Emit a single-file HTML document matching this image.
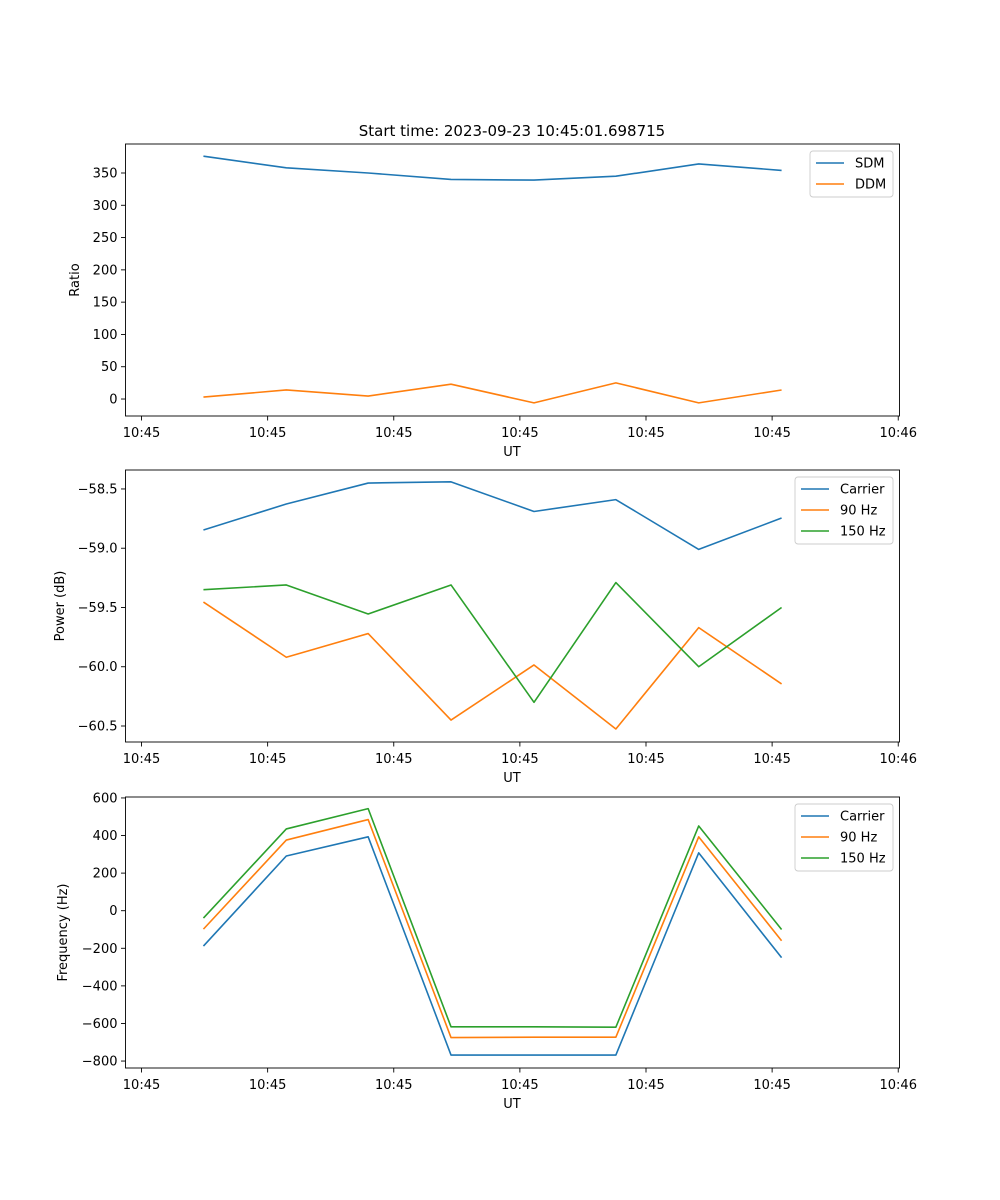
<!DOCTYPE html>
<html><head><meta charset="utf-8"><style>
body{margin:0;background:#fff}
svg{display:block;font-family:"DejaVu Sans","Liberation Sans",sans-serif}
</style></head><body>
<svg id="fig" width="1000" height="1200" viewBox="0 0 1000 1200">
<rect width="1000" height="1200" fill="#fff"/>
<text x="512" y="136" font-size="15" text-anchor="middle">Start time: 2023-09-23 10:45:01.698715</text>
</svg>
<script>
// time in seconds after 10:45:00
const times = [4.91, 11.48, 17.97, 24.54, 31.12, 37.61, 44.18, 50.75];
const xTickVals = [0, 10, 20, 30, 40, 50, 60];
const xTickLabels = ["10:45","10:45","10:45","10:45","10:45","10:45","10:46"];

const sdm = [376, 358, 350, 340, 339, 345, 364, 354];
const ddm = [3, 14, 4.6, 23, -6, 25, -6, 14];
const ratioTicks = [0, 50, 100, 150, 200, 250, 300, 350];

const powCarrier = [-58.846, -58.627, -58.45, -58.44, -58.69, -58.59, -59.01, -58.745];
const pow90 = [-59.454, -59.92, -59.72, -60.45, -59.985, -60.525, -59.67, -60.145];
const pow150 = [-59.35, -59.31, -59.555, -59.31, -60.3, -59.29, -60.0, -59.5];
const powTicks = [-58.5, -59.0, -59.5, -60.0, -60.5];

const frqCarrier = [-188, 291, 393, -768, -768, -768, 308, -250];
const frq90 = [-98, 376, 485, -675, -673, -673, 393, -160];
const frq150 = [-39, 435, 543, -618, -618, -620, 451, -100];
const frqTicks = [600, 400, 200, 0, -200, -400, -600, -800];

const NS = "http://www.w3.org/2000/svg";
const svg = document.getElementById("fig");
function mk(tag, attrs, parent){const e=document.createElementNS(NS,tag);for(const k in attrs)e.setAttribute(k,attrs[k]);(parent||svg).appendChild(e);return e;}
const L=125.5,R=899.5;
const xMin=-1.27,xMax=60.1;
const xs=v=>L+(v-xMin)/(xMax-xMin)*(R-L);
const COLORS={blue:"#1f77b4",orange:"#ff7f0e",green:"#2ca02c"};

function panel(cfg){
  const g=mk("g",{});
  
  
  const ys=v=>cfg.bot-(v-cfg.yMin)/(cfg.yMax-cfg.yMin)*(cfg.bot-cfg.top);
  cfg.series.forEach(s=>{
    const p=mk("polyline",{points:times.map((t,i)=>xs(t).toFixed(2)+","+ys(s.vals[i]).toFixed(2)).join(" "),fill:"none",stroke:s.color,"stroke-width":1.6,"stroke-linejoin":"round"},g);
    
    
  });
  const fr=mk("rect",{x:L,y:cfg.top,width:R-L,height:cfg.bot-cfg.top,fill:"none",stroke:"#000","stroke-width":0.9},g);
  
  
  xTickVals.forEach((v,i)=>{
    const x=xs(v);
    mk("line",{x1:x,x2:x,y1:cfg.bot,y2:cfg.bot+4.5,stroke:"#000","stroke-width":0.9},g);
    const t=mk("text",{x:x,y:cfg.bot+21,"font-size":13,"text-anchor":"middle"},g);
    t.textContent=xTickLabels[i];
    
    
  });
  cfg.ticks.forEach(v=>{
    const y=ys(v);
    mk("line",{x1:L-4.5,x2:L,y1:y,y2:y,stroke:"#000","stroke-width":0.9},g);
    const t=mk("text",{x:L-8,y:y+4.5,"font-size":13,"text-anchor":"end"},g);
    t.textContent=cfg.fmt(v).replace("-","\u2212");
    
    
  });
  const xl=mk("text",{x:512,y:cfg.bot+40,"font-size":13,"text-anchor":"middle"},g);
  xl.textContent="UT";
  
  
  const cy=(cfg.top+cfg.bot)/2;
  const yl=mk("text",{x:cfg.ylx,y:cy,"font-size":13,"text-anchor":"middle",transform:`rotate(-90 ${cfg.ylx} ${cy})`},g);
  yl.textContent=cfg.ylabel;
  
  
  const lg=mk("g",{},g);
  
  
  const lx=cfg.legX, ly=cfg.top+7, h=4+cfg.series.length*21;
  mk("rect",{x:lx,y:ly,width:893-lx,height:h,rx:3,fill:"#fff","fill-opacity":0.8,stroke:"#ccc","stroke-width":0.9},lg);
  cfg.series.forEach((s,i)=>{
    const yy=ly+12+i*21;
    const e=mk("g",{},lg);
    
    
    mk("line",{x1:lx+6,x2:lx+34,y1:yy,y2:yy,stroke:s.color,"stroke-width":1.6},e);
    const t=mk("text",{x:lx+45,y:yy+4.5,"font-size":13},e);
    t.textContent=s.label;
  });
}
panel({name:"ratio-panel",top:144,bot:416,yMin:-26.3,yMax:394.9,ticks:ratioTicks,fmt:v=>String(v),ylabel:"Ratio",ylx:79,legX:810,
  series:[{id:"sdm",label:"SDM",vals:sdm,color:COLORS.blue},{id:"ddm",label:"DDM",vals:ddm,color:COLORS.orange}]});
panel({name:"power-panel",top:470,bot:742,yMin:-60.635,yMax:-58.34,ticks:powTicks,fmt:v=>v.toFixed(1),ylabel:"Power (dB)",ylx:64,legX:795,
  series:[{id:"carrier",label:"Carrier",vals:powCarrier,color:COLORS.blue},{id:"90hz",label:"90 Hz",vals:pow90,color:COLORS.orange},{id:"150hz",label:"150 Hz",vals:pow150,color:COLORS.green}]});
panel({name:"frequency-panel",top:797,bot:1068,yMin:-837,yMax:605,ticks:frqTicks,fmt:v=>String(v),ylabel:"Frequency (Hz)",ylx:67,legX:795,
  series:[{id:"carrier",label:"Carrier",vals:frqCarrier,color:COLORS.blue},{id:"90hz",label:"90 Hz",vals:frq90,color:COLORS.orange},{id:"150hz",label:"150 Hz",vals:frq150,color:COLORS.green}]});
</script>
</body></html>
